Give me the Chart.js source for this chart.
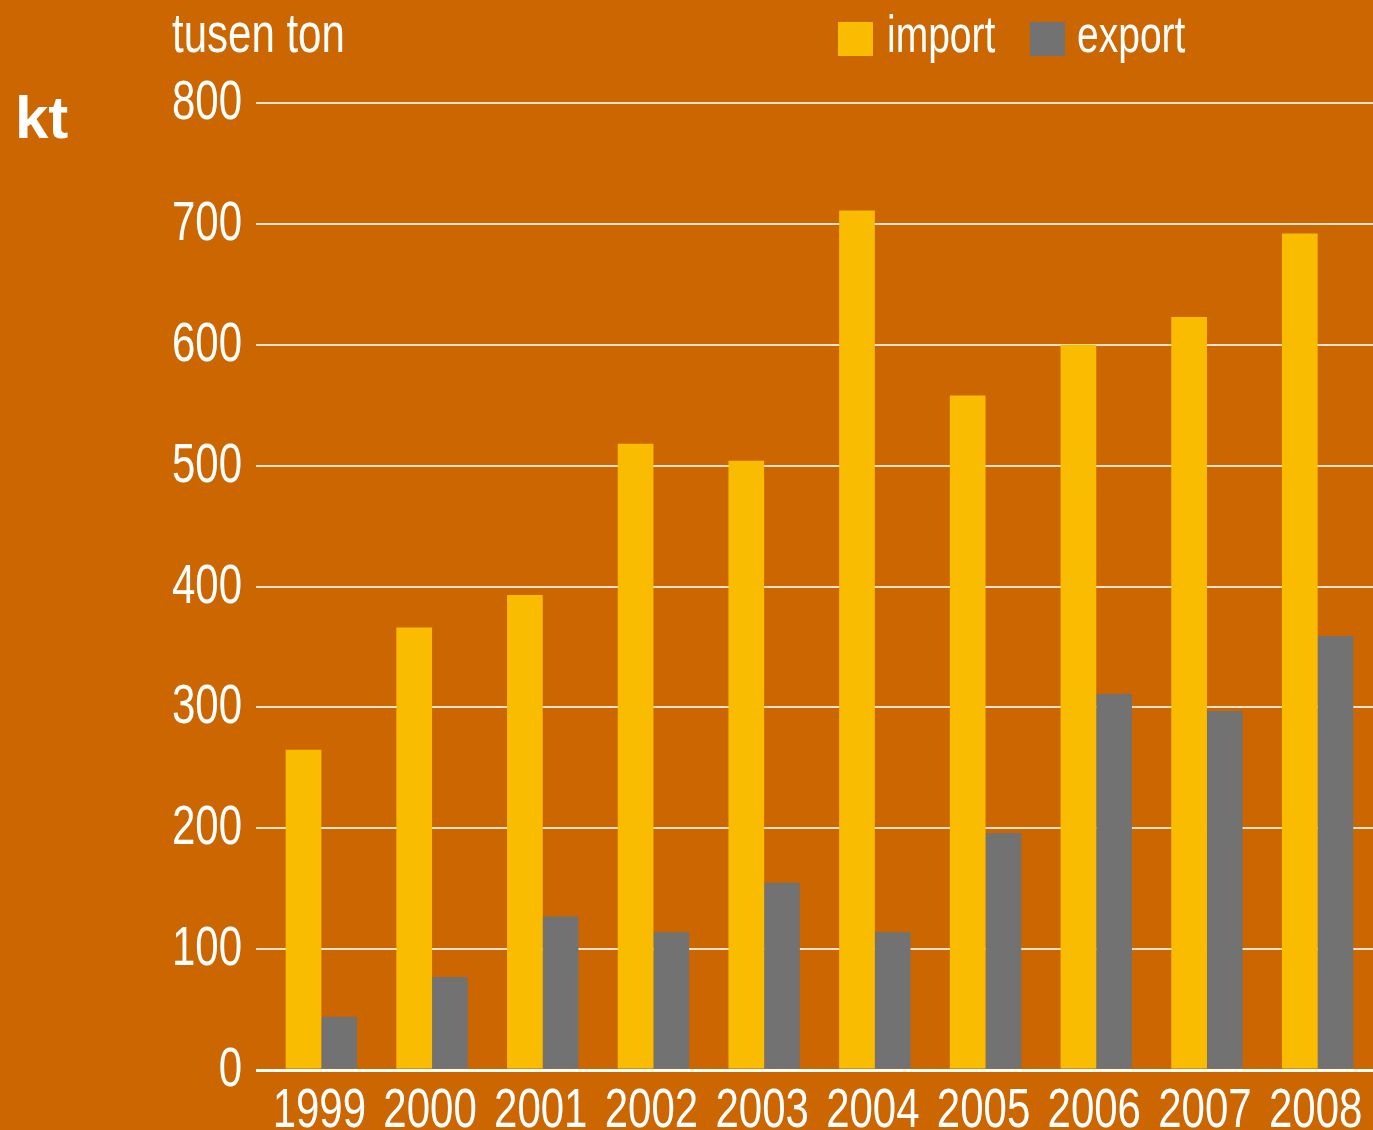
<!DOCTYPE html>
<html>
<head>
<meta charset="utf-8">
<script src="https://cdn.jsdelivr.net/npm/chart.js@4"></script>
<style>
  html, body { margin: 0; padding: 0; background: #cc6600; }
  #wrap { width: 1373px; height: 1130px; position: relative; }
</style>
</head>
<body>
<div id="wrap"><canvas id="myChart" width="1373" height="1130"></canvas></div>
<script>
const years = ['1999', '2000', '2001', '2002', '2003', '2004', '2005', '2006', '2007', '2008'];
const importValues = [265, 366, 393, 518, 504, 711, 558, 600, 623, 692];
const exportValues = [44, 77, 127, 114, 155, 114, 196, 311, 297, 359];
const seriesNames = ['import', 'export'];
const unitLabel = 'tusen ton';
const sideLabel = 'kt';

const baseFont = '"Liberation Sans", Arial, sans-serif';
const squeeze = 0.75; // no condensed face installed, so squeeze the regular one

function narrowText(ctx, text, x, y, size, align) {
    ctx.save();
    ctx.translate(x, y);
    ctx.scale(squeeze, 1);
    ctx.font = size + 'px ' + baseFont;
    ctx.textAlign = align;
    ctx.textBaseline = 'alphabetic';
    ctx.fillText(text, 0, 0);
    ctx.restore();
}

// tick labels, titles and legend drawn on the canvas
const extras = {
    id: 'extras',
    afterDraw(chart) {
        const ctx = chart.ctx;
        const xs = chart.scales.x;
        const ys = chart.scales.y;
        ctx.save();
        ctx.fillStyle = '#ffffff';

        ys.ticks.forEach((t) => {
            narrowText(ctx, String(t.value), 242, ys.getPixelForValue(t.value) + 16, 56, 'right');
        });
        chart.data.labels.forEach((lab, i) => {
            narrowText(ctx, lab, xs.getPixelForTick(i) - 2, 1127, 56, 'center');
        });

        ctx.font = 'bold 60px ' + baseFont;
        ctx.textAlign = 'left';
        ctx.textBaseline = 'alphabetic';
        ctx.fillText(sideLabel, 15, 138);
        narrowText(ctx, unitLabel, 172, 52, 56, 'left');

        const items = [[838, 887], [1030, 1077]];
        chart.data.datasets.forEach((ds, i) => {
            ctx.fillStyle = ds.backgroundColor;
            ctx.fillRect(items[i][0], 22, 35, 34);
            ctx.fillStyle = '#ffffff';
            narrowText(ctx, ds.label, items[i][1], 52, 52, 'left');
        });
        ctx.restore();
    }
};

new Chart(document.getElementById('myChart').getContext('2d'), {
    type: 'bar',
    data: {
        labels: years,
        datasets: [
            {
                label: seriesNames[0],
                data: importValues,
                backgroundColor: '#f9bc00',
                categoryPercentage: 0.645,
                barPercentage: 1,
            },
            {
                label: seriesNames[1],
                data: exportValues,
                backgroundColor: '#727272',
                categoryPercentage: 0.645,
                barPercentage: 1,
            }
        ]
    },
    options: {
        responsive: false,
        animation: false,
        layout: { padding: { top: 103, left: 0, right: 0, bottom: 0 } },
        plugins: {
            legend: { display: false },
            tooltip: { enabled: false }
        },
        scales: {
            x: {
                grid: { display: false },
                border: { display: false },
                ticks: { display: false },
                afterFit(scale) { scale.height = 60; }
            },
            y: {
                min: 0,
                max: 800,
                border: { display: false },
                grid: {
                    color: (c) => c.tick && c.tick.value === 0 ? '#ffffff' : 'rgba(255,240,225,0.9)',
                    lineWidth: (c) => c.tick && c.tick.value === 0 ? 3 : 2,
                    tickLength: 10,
                    drawTicks: true
                },
                ticks: { display: false, stepSize: 100 },
                afterFit(scale) { scale.width = 266; }
            }
        }
    },
    plugins: [extras]
});
</script>
</body>
</html>
